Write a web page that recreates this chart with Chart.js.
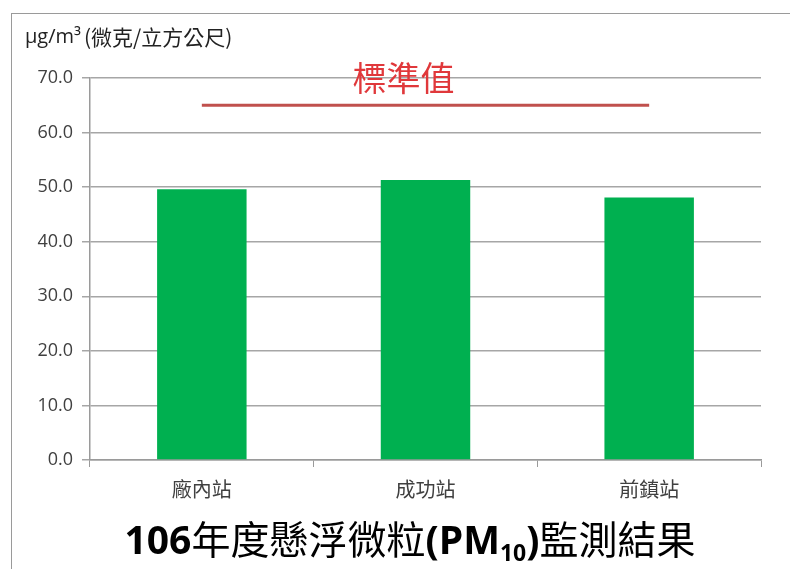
<!DOCTYPE html>
<html>
<head>
<meta charset="utf-8">
<script src="https://cdn.jsdelivr.net/npm/chart.js@4/dist/chart.umd.min.js"></script>
<style>
  html, body { margin: 0; padding: 0; background: #fff; overflow: hidden; }
  #frame { position: absolute; left: 11px; top: 13px; width: 820px; height: 620px; border: 1px solid #9a9a9a; }
  #wrap { position: absolute; left: 0; top: 0; width: 790px; height: 569px; }
  #title {
    position: absolute; left: 0; width: 820px; top: 518px; text-align: center;
    font-family: "Noto Sans CJK TC", "Noto Sans", sans-serif; font-size: 39px; line-height: 1;
    color: #000; white-space: nowrap;
  }
  #title b { font-family: "Open Sans", "Noto Sans", sans-serif; font-weight: 700; }
  #title sub { font-size: 23px; vertical-align: -7px; line-height: 0; }
</style>
</head>
<body>
<div id="frame"></div>
<div id="wrap"><canvas id="chart" width="790" height="569"></canvas></div>
<div id="title"><b>106</b>年度懸浮微粒<b>(PM<sub>10</sub>)</b>監測結果</div>
<script>
const STATIONS = ['廠內站', '成功站', '前鎮站'];
const PM10_VALUES = [49.6, 51.3, 48.1];
const STANDARD = [65, 65, 65];
const STANDARD_LABEL = '標準值';
const UNIT_LABEL = ['μg/m³', '(微克/立方公尺)'];

const FONT = "'Noto Sans CJK TC', 'Noto Sans', sans-serif";

// draws the unit label and the red "標準值" text above the standard line
const annotations = {
  id: 'annotations',
  afterDraw(chart) {
    const ctx = chart.ctx;
    ctx.save();
    ctx.fillStyle = '#222';
    ctx.textAlign = 'left';
    ctx.textBaseline = 'middle';
    ctx.font = "20px 'Open Sans', sans-serif";
    ctx.fillText(UNIT_LABEL[0], 25, 37);
    const w = ctx.measureText(UNIT_LABEL[0]).width;
    ctx.font = `21px ${FONT}`;
    ctx.fillText(UNIT_LABEL[1], 25 + w + 3, 37);

    const x = chart.scales.x;
    const y = chart.scales.y;
    const mid = (x.getPixelForValue(0) + x.getPixelForValue(STATIONS.length - 1)) / 2;
    ctx.fillStyle = '#e0383b';
    ctx.font = `34px ${FONT}`;
    ctx.textAlign = 'center';
    ctx.fillText(STANDARD_LABEL, mid - 22, y.getPixelForValue(STANDARD[0]) - 27);
    ctx.restore();
  },
};

new Chart(document.getElementById('chart'), {
  type: 'bar',
  data: {
    labels: STATIONS,
    datasets: [
      {
        type: 'line',
        data: STANDARD,
        borderColor: '#c0504d',
        borderWidth: 3,
        pointRadius: 0,
        fill: false,
        order: 0,
      },
      {
        data: PM10_VALUES,
        backgroundColor: '#00b050',
        barPercentage: 0.4,
        categoryPercentage: 1,
        order: 1,
      },
    ],
  },
  options: {
    responsive: false,
    animation: false,
    layout: { padding: { left: 0, right: 29, top: 78, bottom: 0 } },
    plugins: { legend: { display: false }, tooltip: { enabled: false } },
    scales: {
      x: {
        afterFit: s => { s.height = 109; },
        grid: { display: true, drawOnChartArea: false, drawTicks: true, tickLength: 7, color: '#9a9a9a', offset: true },
        border: { color: '#9a9a9a', width: 1.5 },
        ticks: { color: '#404040', font: { family: FONT, size: 20 }, padding: 10 },
      },
      y: {
        min: 0,
        max: 70,
        afterFit: s => { s.width = 90; },
        grid: { color: '#a6a6a6', lineWidth: 1.5, tickLength: 8 },
        border: { color: '#9a9a9a', width: 1.5 },
        ticks: {
          stepSize: 10,
          color: '#404040',
          font: { family: "'Open Sans', 'Noto Sans', sans-serif", size: 18 },
          padding: 9,
          callback: v => v.toFixed(1),
        },
      },
    },
  },
  plugins: [annotations],
});
</script>
</body>
</html>
